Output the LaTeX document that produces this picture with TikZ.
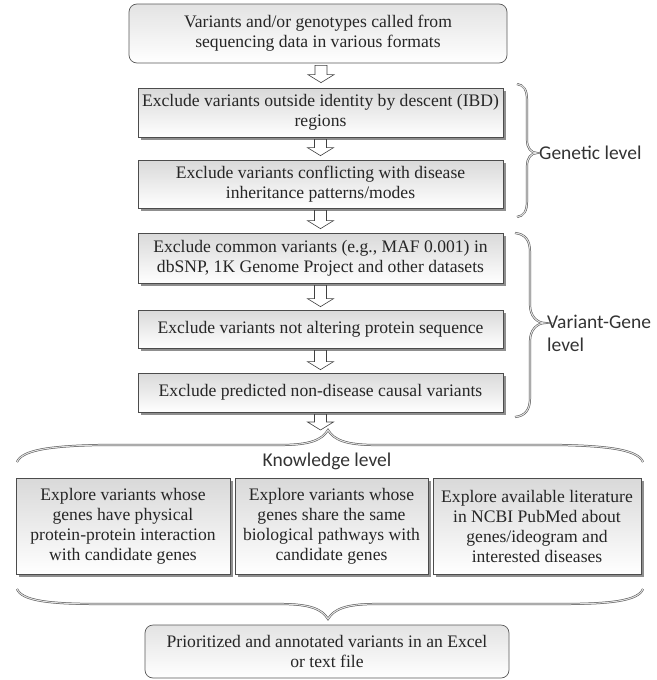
\documentclass[tikz,border=0pt]{standalone}
\usepackage{fontspec}
\setmainfont{Liberation Serif}
\newfontfamily\labelfont{Carlito}
\usetikzlibrary{calc,shadows}
\tikzset{
  stepbox/.style={draw=black!70, line width=0.7pt, top color=gray!30, bottom color=white,
    drop shadow={shadow xshift=2.5pt, shadow yshift=-2.5pt, fill=black!55, opacity=0.8},
    align=center, text=black!85, inner xsep=4pt, inner ysep=2pt,
    font=\fontsize{17.6}{20}\selectfont},
  endbox/.style={draw=black!65, line width=0.7pt, rounded corners=8pt, top color=gray!22,
    bottom color=white, align=center, text=black!85, inner xsep=4pt, inner ysep=2pt,
    font=\fontsize{17.6}{20}\selectfont},
  levellabel/.style={text=black!80, inner sep=0pt, font=\labelfont\fontsize{19.5}{23}\selectfont},
  brace/.style={draw=black!70, double=gray!25, double distance=1.1pt, line width=0.5pt},
  hollow/.style={draw=black!75, line width=0.6pt, fill=white,
    to path={let \p1=(\tikztostart), \p2=(\tikztotarget) in
      (\x1-6pt,\y1) -- (\x1-6pt,\y2+8pt) -- (\x1-13pt,\y2+8pt) -- (\x1,\y2)
      -- (\x1+13pt,\y2+8pt) -- (\x1+6pt,\y2+8pt) -- (\x1+6pt,\y1) -- cycle}}
}
\begin{document}
\begin{tikzpicture}[x=1pt,y=-1pt]
\useasboundingbox (0,0) rectangle (656,680);

\node[endbox, minimum width=378pt, minimum height=59pt] (called) at (318,33.5)
  {Variants and/or genotypes called from\\sequencing data in various formats};

\node[stepbox, minimum width=365pt, minimum height=49pt] (ibd) at (320.5,112.5)
  {Exclude variants outside identity by descent (IBD)\\regions};
\node[stepbox, minimum width=365pt, minimum height=48pt] (inherit) at (320.5,184)
  {Exclude variants conflicting with disease\\inheritance patterns/modes};
\node[stepbox, minimum width=365pt, minimum height=50pt] (common) at (320.5,258)
  {Exclude common variants (e.g., MAF 0.001) in\\dbSNP, 1K Genome Project and other datasets};
\node[stepbox, minimum width=365pt, minimum height=38pt] (protein) at (320.5,329)
  {Exclude variants not altering protein sequence};
\node[stepbox, minimum width=365pt, minimum height=39pt] (causal) at (320.5,392.5)
  {Exclude predicted non-disease causal variants};

\node[stepbox, minimum width=214pt, minimum height=96pt] (ppi) at (123,526)
  {Explore variants whose\\genes have physical\\protein-protein interaction\\with candidate genes};
\node[stepbox, minimum width=193pt, minimum height=96pt] (pathway) at (331.5,526)
  {Explore variants whose\\genes share the same\\biological pathways with\\candidate genes};
\node[stepbox, minimum width=208pt, minimum height=96pt] (pubmed) at (537,526)
  {Explore available literature\\in NCBI PubMed about\\genes/ideogram and\\interested diseases};

\node[endbox, minimum width=364pt, minimum height=53pt] (ranked) at (327,651.5)
  {Prioritized and annotated variants in an Excel\\or text file};

\node[levellabel, anchor=west] (genetic) at (539,153) {Genetic level};
\node[levellabel, anchor=west, align=left] (vglevel) at (547,333.5) {Variant-Gene\\level};
\node[levellabel] (knowledge) at (327,461) {Knowledge level};

\coordinate (ktip) at (328,430);
\coordinate (btip) at (328,619);

\draw[brace] (517,84) .. controls (524,85) and (527,90) .. (527,100) -- (527,140)
  .. controls (527,148) and (531,153) .. (537,153) .. controls (531,153) and (527,158) .. (527,166)
  -- (527,201) .. controls (527,211) and (524,216) .. (517,217);
\draw[brace] (515,233) .. controls (525,234) and (530,240) .. (530,252) -- (530,305)
  .. controls (530,316) and (537,323) .. (545,323) .. controls (537,323) and (530,330) .. (530,341)
  -- (530,398) .. controls (530,410) and (525,416) .. (515,417);
\draw[brace] (17,462) .. controls (22,450) and (50,446) .. (100,445) -- (280,445)
  .. controls (310,445) and (322,440) .. (ktip) .. controls (334,440) and (346,445) .. (376,445)
  -- (560,445) .. controls (610,446) and (638,450) .. (643,462);
\draw[brace] (17,589) .. controls (22,601) and (50,604) .. (100,604) -- (280,604)
  .. controls (310,604) and (322,609) .. (btip) .. controls (334,609) and (346,604) .. (376,604)
  -- (560,604) .. controls (610,604) and (638,601) .. (643,589);

\draw[hollow] ([xshift=3pt,yshift=-2pt]called.south) to ([xshift=3pt,yshift=5pt]ibd.north);
\draw[hollow] ([yshift=-2pt]ibd.south) to ([yshift=4pt]inherit.north);
\draw[hollow] ([yshift=-2pt]inherit.south) to ([yshift=4pt]common.north);
\draw[hollow] ([yshift=-2pt]common.south) to ([yshift=3pt]protein.north);
\draw[hollow] ([yshift=-2pt]protein.south) to ([yshift=3pt]causal.north);
\draw[hollow] ([yshift=-2pt]causal.south) to ([xshift=-7pt]ktip);
\end{tikzpicture}
\end{document}
